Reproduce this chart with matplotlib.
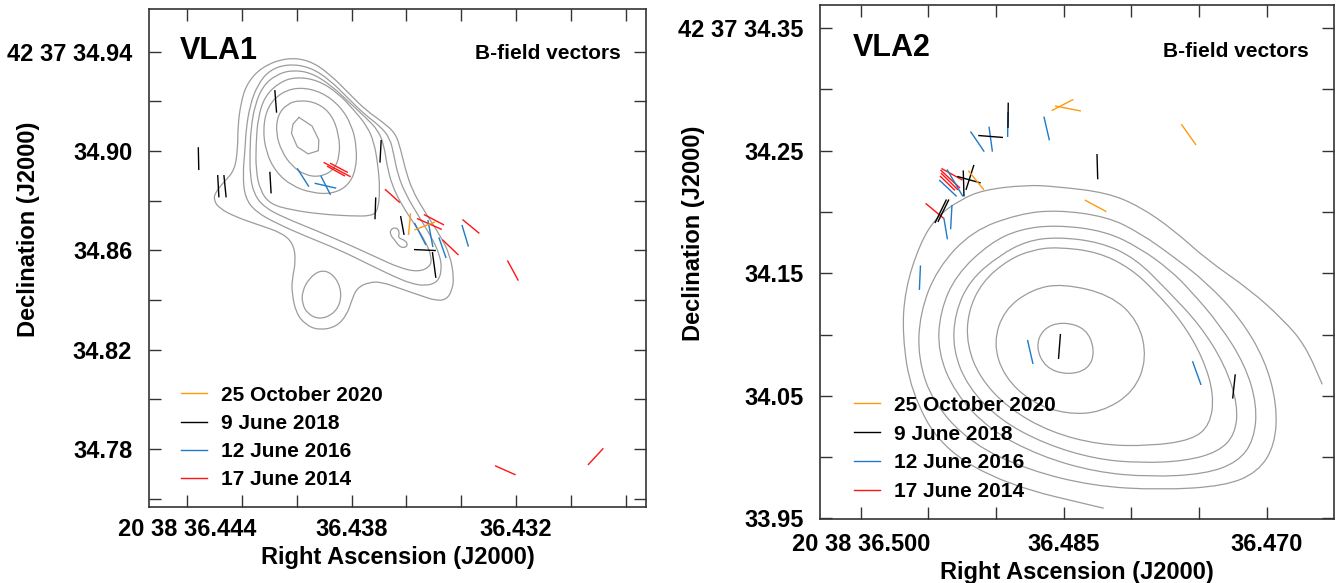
import numpy as np
import matplotlib
matplotlib.use("Agg")
import matplotlib.pyplot as plt
from matplotlib.path import Path
from matplotlib.patches import PathPatch
from matplotlib.lines import Line2D
from matplotlib.ticker import FixedLocator, FixedFormatter

plt.rcParams['font.family'] = ['Liberation Sans', 'DejaVu Sans']
plt.rcParams['font.weight'] = 'bold'

# map reference positions: RA in s of 20h38m, Dec in arcsec of +42d37m
VLA1_REF = (36.438, 34.86)
VLA2_REF = (36.485, 34.15)
DEC_DEG = 42 + 37 / 60 + 34.9 / 3600

EPOCHS = ['25 October 2020', '9 June 2018', '12 June 2016', '17 June 2014']
COLORS = ['#ff9a0d', 'black', '#1f7ac8', '#ff1414']

# axis ticks
V1_XTICKS = [36.444, 36.442, 36.440, 36.438, 36.436, 36.434, 36.432, 36.430, 36.428]
V1_XLABELS = ['20 38 36.444', '', '', '36.438', '', '', '36.432', '', '']
V1_YTICKS = [34.76, 34.78, 34.80, 34.82, 34.84, 34.86, 34.88, 34.90, 34.92, 34.94]
V1_YLABELS = ['', '34.78', '', '34.82', '', '34.86', '', '34.90', '', '42 37 34.94']
V2_XTICKS = [36.500, 36.495, 36.490, 36.485, 36.480, 36.475, 36.470]
V2_XLABELS = ['20 38 36.500', '', '', '36.485', '', '', '36.470']
V2_YTICKS = [33.95, 34.00, 34.05, 34.10, 34.15, 34.20, 34.25, 34.30, 34.35]
V2_YLABELS = ['33.95', '', '34.05', '', '34.15', '', '34.25', '', '42 37 34.35']

# ---- VLA1 contours, (east, north) offsets in mas from VLA1_REF ----
V1_C1 = [(26.6, 77.5), (17.2, 76.6), (9.1, 71.2), (1.1, 63.2), (-5.6, 56.5), (-12.3, 51.8),
         (-17.7, 47.1), (-19.8, 40.4), (-21.5, 33.1), (-24.3, 24.3), (-29.5, 15.4), (-35.5, 6.2),
         (-39.6, -1.9), (-41.2, -11.1), (-40.4, -16.0), (-38.4, -19.6), (-34.3, -20.4),
         (-27.1, -18.0), (-19.0, -15.2), (-12.2, -12.8), (-7.0, -12.8), (-2.1, -15.2),
         (-0.1, -20.0), (1.9, -26.0), (6.3, -30.9), (13.2, -32.1), (18.4, -30.1), (22.4, -25.2),
         (24.0, -17.2), (24.0, -12.0), (22.4, -3.9), (23.6, 2.9), (28.1, 7.0), (37.3, 10.2),
         (46.6, 13.4), (53.4, 17.0), (55.4, 20.2), (55.0, 23.1), (51.4, 27.5), (47.0, 32.3),
         (45.8, 41.6), (45.8, 49.6), (44.6, 59.3), (42.1, 67.3), (36.1, 73.8)]
V1_C2 = [(25.6, 75.0), (16.8, 73.8), (8.7, 68.5), (1.5, 61.3), (-5.0, 54.9), (-11.4, 50.0),
         (-15.4, 45.2), (-17.0, 38.4), (-18.6, 30.3), (-21.9, 22.3), (-26.7, 14.2), (-32.3, 5.0),
         (-35.5, -1.9), (-36.3, -7.9), (-34.7, -12.8), (-29.5, -14.4), (-23.5, -13.2),
         (-17.4, -10.7), (-7.4, -5.9), (4.7, 0.1), (18.8, 5.8), (29.7, 10.6), (38.5, 15.4),
         (42.9, 21.1), (43.8, 30.3), (42.9, 40.4), (42.5, 48.4), (40.9, 58.5), (37.7, 66.9),
         (32.9, 72.6)]
V1_C3 = [(24.0, 72.6), (16.0, 71.4), (7.9, 66.1), (0.7, 59.3), (-5.8, 53.3), (-10.6, 48.4),
         (-13.0, 42.4), (-14.2, 34.3), (-16.2, 26.3), (-20.2, 18.2), (-25.5, 10.2), (-29.9, 3.3),
         (-32.3, -3.1), (-31.5, -6.7), (-26.7, -8.7), (-19.4, -7.1), (-10.6, -3.1), (0.7, 2.1),
         (14.8, 8.2), (26.8, 13.0), (35.3, 17.4), (39.3, 22.7), (40.9, 30.3), (40.9, 40.4),
         (40.5, 49.2), (38.9, 58.5), (35.7, 66.1), (30.5, 70.6)]
V1_C4 = [(22.4, 69.8), (13.6, 68.5), (5.5, 63.3), (-0.9, 56.5), (-6.2, 50.0), (-9.0, 43.6),
         (-10.6, 34.3), (-11.4, 24.3), (-10.6, 16.2), (-8.2, 13.8), (0.7, 13.8), (12.8, 14.6),
         (24.0, 16.2), (32.9, 18.6), (36.9, 24.3), (38.5, 32.3), (38.5, 42.4), (37.7, 53.3),
         (34.9, 62.1), (28.9, 67.7)]
V1_C5 = [(20.8, 65.7), (12.0, 63.7), (4.7, 58.1), (-0.1, 50.4), (-2.1, 41.2), (-1.7, 32.3),
         (1.5, 25.9), (7.9, 22.7), (16.0, 23.1), (24.0, 25.9), (30.5, 31.5), (34.5, 39.6),
         (35.7, 49.2), (33.7, 58.1), (28.1, 63.7)]
V1_C6 = [(20.8, 60.5), (13.6, 59.3), (7.9, 54.5), (5.1, 46.4), (4.7, 38.4), (7.1, 32.3),
         (12.8, 29.5), (18.8, 30.3), (24.0, 33.9), (28.1, 39.6), (30.5, 47.2), (29.7, 54.5),
         (26.0, 58.9)]
V1_PEAK = [(21.2, 53.5), (15.9, 50.0), (13.2, 44.4), (13.4, 40.1), (17.5, 38.8), (21.9, 41.7),
           (24.2, 47.1), (23.6, 50.8)]
V1_BLOB = [(19.9, -16.7), (17.2, -11.3), (12.5, -7.9), (7.8, -9.3), (4.4, -14.7), (4.4, -21.3),
           (7.8, -26.0), (13.2, -27.8), (17.9, -25.4), (19.9, -21.3)]
V1_KNOT = [(-15.4, 8.2), (-17.8, 9.4), (-19.4, 7.4), (-18.6, 5.0), (-21.5, 4.1), (-22.7, 2.1),
           (-21.1, 0.9), (-19.0, 1.7), (-17.4, 4.1), (-15.8, 5.8)]

# ---- VLA1 B-field vectors (e1, n1, e2, n2) in mas ----
V1_2020 = [(-23.7, 14.9, -22.9, 6.2), (-25.3, 8.2, -33.5, 11.4)]
V1_2018 = [(30.9, 64.5, 30.2, 55.4), (61.7, 41.5, 61.5, 32.3), (53.9, 30.3, 53.4, 21.3),
           (51.4, 30.3, 50.5, 21.3), (32.9, 31.6, 32.4, 22.9), (-11.9, 44.4, -11.4, 35.3),
           (-9.7, 21.3, -9.4, 12.5), (-19.7, 13.8, -21.1, 6.2), (-25.1, 0.3, -33.9, -0.1),
           (-32.5, -0.7, -33.9, -11.1)]
V1_2016 = [(21.9, 33.0, 17.2, 25.6), (12.4, 30.0, 8.5, 22.3), (14.9, 27.0, 6.2, 25.0),
           (-25.3, 11.0, -29.9, 2.1), (-30.7, 12.2, -32.7, 1.3), (-35.1, 5.2, -38.0, -3.1),
           (-44.4, 10.2, -47.0, 1.5)]
V1_2014 = [(11.3, 35.4, 0.4, 29.6), (8.7, 35.1, 1.5, 31.3), (9.9, 33.9, 2.7, 29.9),
           (-13.4, 24.6, -19.4, 19.2), (-26.3, 12.8, -36.3, 8.4), (-29.1, 14.4, -37.2, 10.2),
           (-36.5, 4.3, -43.0, -1.9), (-44.6, 12.4, -51.4, 6.8), (-62.7, -4.1, -67.1, -12.2),
           (-57.7, -86.7, -66.0, -90.4), (-95.1, -86.4, -101.3, -79.7)]

# ---- VLA2 contours, offsets in mas from VLA2_REF ----
V2_C1 = [(-32.6, -191.7), (46.9, -172.7), (99.9, -142.4), (124.6, -96.7), (131.7, -51.0),
         (129.6, -13.6), (117.3, 24.5), (103.7, 46.2), (84.7, 59.8), (65.7, 68.0), (30.3, 72.1),
         (5.5, 70.7), (-35.3, 65.8), (-62.4, 54.3), (-89.7, 35.3), (-116.9, 10.9),
         (-152.2, -13.6), (-179.2, -38.1), (-196.8, -58.5), (-210.9, -90.6)]
V2_C2 = [(5.5, 51.7), (-35.3, 46.2), (-62.2, 32.9), (-89.9, 13.3), (-116.9, -7.9),
         (-143.8, -36.5), (-164.2, -70.7), (-174.0, -107.5), (-172.3, -140.1), (-158.5, -162.1),
         (-131.5, -173.6), (-78.5, -176.8), (-23.8, -173.6), (29.2, -160.5), (74.9, -139.3),
         (106.7, -105.8), (119.0, -69.1), (117.3, -32.4), (103.5, 3.5), (74.9, 34.5), (36.6, 48.4)]
V2_C3 = [(5.5, 39.4), (-33.6, 34.5), (-62.2, 20.6), (-86.7, 2.7), (-103.0, -13.6),
         (-127.5, -42.2), (-147.9, -74.8), (-157.7, -107.5), (-155.2, -136.0), (-142.1, -154.0),
         (-115.2, -163.8), (-70.3, -166.2), (-25.5, -162.1), (19.4, -149.1), (60.2, -127.9),
         (88.8, -97.7), (102.7, -64.2), (101.0, -31.6), (88.0, -1.4), (60.2, 24.7), (35.7, 36.1)]
V2_C4 = [(5.5, 29.6), (-29.5, 25.5), (-58.1, 12.5), (-84.2, -13.6), (-111.1, -42.2),
         (-131.5, -74.8), (-142.1, -107.5), (-139.7, -131.9), (-125.8, -145.8), (-98.9, -153.2),
         (-62.2, -154.8), (-25.5, -151.5), (15.3, -139.3), (52.1, -119.7), (78.2, -92.8),
         (90.4, -62.6), (88.8, -32.4), (76.5, -5.5), (52.1, 14.9), (30.0, 26.4)]
V2_C5 = [(5.5, 21.5), (-27.9, 17.4), (-54.0, 4.3), (-73.6, -13.6), (-96.5, -39.7),
         (-113.6, -69.1), (-122.6, -99.3), (-119.3, -123.8), (-104.6, -136.0), (-70.3, -140.9),
         (-29.5, -140.1), (11.3, -129.5), (45.5, -109.9), (68.4, -85.4), (79.0, -58.5),
         (78.2, -31.6), (66.7, -7.1), (45.5, 10.9), (25.9, 19.0)]
V2_C6 = [(1.0, -8.4), (-37.9, -17.5), (-60.9, -38.8), (-67.9, -69.3), (-57.3, -96.7),
         (-30.8, -113.4), (-2.5, -115.0), (25.7, -105.8), (48.6, -84.5), (57.5, -57.1),
         (48.6, -29.7), (25.7, -13.0)]
V2_C7 = [(1.0, -39.4), (-18.4, -45.0), (-25.5, -63.2), (-20.2, -78.4), (-2.5, -83.0),
         (15.1, -76.9), (22.8, -60.1), (16.9, -45.0)]

# ---- VLA2 B-field vectors (e1, n1, e2, n2) in mas ----
V2_2020 = [(77.9, 83.7, 65.1, 68.0), (9.9, 132.7, -7.8, 141.8), (7.2, 136.5, -14.0, 132.4),
           (-17.1, 59.8, -34.7, 50.3), (-95.9, 121.6, -107.9, 104.7)]
V2_2018 = [(45.3, 139.2, 45.5, 118.6), (69.8, 112.4, 49.6, 110.8), (-27.1, 97.3, -27.7, 76.7),
           (82.0, 83.9, 81.4, 62.7), (86.9, 79.0, 67.8, 73.7), (79.8, 68.0, 73.3, 88.4),
           (105.1, 41.0, 95.7, 60.2), (102.7, 41.9, 93.7, 60.2), (2.7, -49.5, 4.3, -69.9),
           (-139.9, -82.4, -137.8, -102.2)]
V2_2016 = [(45.5, 131.6, 45.8, 111.2), (61.0, 119.6, 58.2, 99.2), (76.1, 115.7, 64.9, 99.2),
           (16.2, 127.8, 11.7, 108.4), (101.6, 76.1, 87.4, 62.7), (95.3, 84.7, 82.3, 62.7),
           (97.8, 44.9, 94.9, 27.7), (91.2, 55.7, 92.3, 35.9), (116.9, 6.4, 117.8, -13.6),
           (29.6, -54.4, 25.1, -74.0), (-105.0, -71.7, -112.0, -91.1)]
V2_2014 = [(99.8, 85.5, 82.7, 76.1), (100.6, 84.3, 84.7, 69.6), (100.2, 81.8, 86.3, 68.0),
           (101.0, 79.4, 88.8, 67.6), (112.7, 57.0, 97.8, 44.7)]

CONT_COLOR = '#9c9c9c'


def sky(e, n, ref):
    # mas offsets -> RA (s) / Dec (arcsec)
    e = np.asarray(e, float)
    n = np.asarray(n, float)
    ra = ref[0] + e / (15000.0 * np.cos(np.radians(DEC_DEG)))
    return ra, ref[1] + n / 1000.0


def contour_path(pts, ref, closed=True):
    pts = np.asarray(pts, float)
    ra, dec = sky(pts[:, 0], pts[:, 1], ref)
    p = np.column_stack([ra, dec])
    if closed:
        mid = (p + np.roll(p, -1, axis=0)) / 2
        verts, codes = [mid[-1]], [Path.MOVETO]
        for i in range(len(p)):
            verts += [p[i], mid[i]]
            codes += [Path.CURVE3, Path.CURVE3]
    else:
        mid = (p[:-1] + p[1:]) / 2
        verts, codes = [p[0], mid[0]], [Path.MOVETO, Path.LINETO]
        for i in range(1, len(p) - 1):
            verts += [p[i], mid[i]]
            codes += [Path.CURVE3, Path.CURVE3]
        verts.append(p[-1])
        codes.append(Path.LINETO)
    return Path(verts, codes)


def draw_contours(ax, ref, closed, opened=(), polys=()):
    for c in closed:
        ax.add_patch(PathPatch(contour_path(c, ref), fill=False, ec=CONT_COLOR, lw=0.9))
    for c in opened:
        ax.add_patch(PathPatch(contour_path(c, ref, closed=False), fill=False,
                               ec=CONT_COLOR, lw=0.9))
    for c in polys:
        c = np.asarray(c + c[:1], float)
        ra, dec = sky(c[:, 0], c[:, 1], ref)
        ax.plot(ra, dec, color=CONT_COLOR, lw=0.9)


def draw_vectors(ax, ref, sets):
    # oldest first so the newest epoch ends on top
    for segs, col in list(zip(sets, COLORS))[::-1]:
        for e1, n1, e2, n2 in segs:
            ra, dec = sky([e1, e2], [n1, n2], ref)
            ax.plot(ra, dec, color=col, lw=1.0, solid_capstyle='butt')


def style(ax, xlim, ylim, xt, xl, yt, yl, xpad, name, name_xy, bf_xy, lab_x, lab_y, leg_xy, lsp):
    ax.set_xlim(*xlim)
    ax.set_ylim(*ylim)
    ax.xaxis.set_major_locator(FixedLocator(xt))
    ax.xaxis.set_major_formatter(FixedFormatter(xl))
    ax.yaxis.set_major_locator(FixedLocator(yt))
    ax.yaxis.set_major_formatter(FixedFormatter(yl))
    ax.tick_params(direction='in', length=8.5, width=1.0, color='#333333',
                   top=True, right=True, labelsize=17)
    ax.tick_params(axis='x', pad=xpad)
    ax.tick_params(axis='y', pad=12)
    for s in ax.spines.values():
        s.set_linewidth(1.2)
        s.set_color('#333333')
    ax.set_xlabel('Right Ascension (J2000)', fontsize=17, fontweight='bold', va='center')
    ax.set_ylabel('Declination (J2000)', fontsize=17, fontweight='bold', va='center', ha='center')
    ax.xaxis.set_label_coords(0.5, lab_x)
    ax.yaxis.set_label_coords(lab_y[0], lab_y[1])
    ax.text(name_xy[0], name_xy[1], name, transform=ax.transAxes, fontsize=22,
            fontweight='bold', ha='left', va='baseline')
    ax.text(bf_xy[0], bf_xy[1], 'B-field vectors', transform=ax.transAxes, fontsize=15,
            fontweight='bold', ha='right', va='baseline')
    handles = [Line2D([], [], color=c, lw=1.0) for c in COLORS]
    ax.legend(handles, EPOCHS, loc='upper left', bbox_to_anchor=leg_xy, frameon=False,
              borderpad=0, borderaxespad=0, handlelength=1.25, handletextpad=0.65,
              labelspacing=lsp, prop={'size': 15, 'weight': 'bold'})


fig = plt.figure(figsize=(13.37, 5.83), dpi=100)
ax1 = fig.add_axes([0.1114, 0.1309, 0.3717, 0.8531])
ax2 = fig.add_axes([0.6133, 0.1093, 0.3842, 0.8822])

draw_contours(ax1, VLA1_REF, [V1_C1, V1_C2, V1_C3, V1_C4, V1_C5, V1_C6, V1_BLOB, V1_KNOT],
              polys=[V1_PEAK])
draw_vectors(ax1, VLA1_REF, [V1_2020, V1_2018, V1_2016, V1_2014])
style(ax1, (36.44539, 36.42727), (34.7568, 34.9570), V1_XTICKS, V1_XLABELS,
      V1_YTICKS, V1_YLABELS, 8.5, 'VLA1', (0.062, 0.8995), (0.949, 0.8995),
      -0.1027, (-0.2425, 0.557), (0.065, 0.2433), 0.44)

draw_contours(ax2, VLA2_REF, [V2_C2, V2_C3, V2_C4, V2_C5, V2_C6, V2_C7], opened=[V2_C1])
draw_vectors(ax2, VLA2_REF, [V2_2020, V2_2018, V2_2016, V2_2014])
style(ax2, (36.50302, 36.46505), (33.9493, 34.3689), V2_XTICKS, V2_XLABELS,
      V2_YTICKS, V2_YLABELS, 10.2, 'VLA2', (0.0637, 0.9008), (0.9513, 0.8995),
      -0.104, (-0.2462, 0.5563), (0.0662, 0.2402), 0.47)

fig.savefig('out.png', dpi=100)
